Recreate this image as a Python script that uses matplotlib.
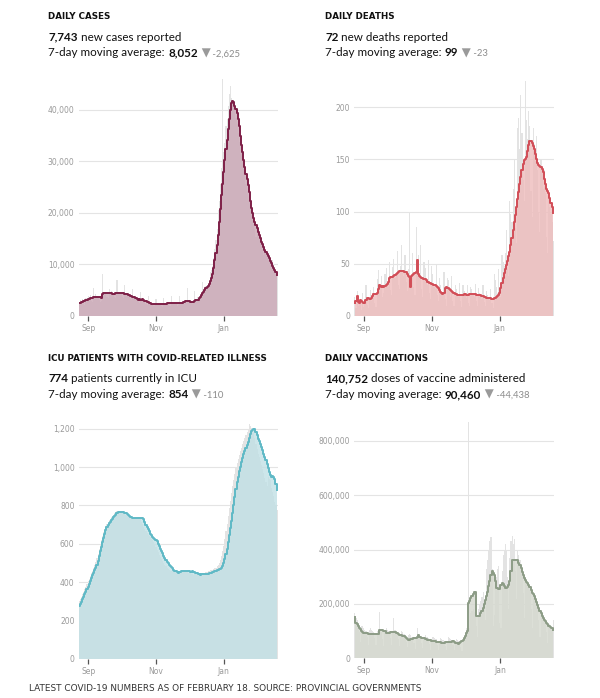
import matplotlib
matplotlib.use("Agg")
import matplotlib.pyplot as plt
import matplotlib.dates as mdates
from matplotlib.ticker import FuncFormatter
import pandas as pd

# days shown: Aug 24 2021 .. Feb 18 2022
dates = pd.date_range("2021-08-24", "2022-02-18", freq="D")

# ---- daily cases ----
cases_daily = [
    2600, 3100, 2900, 3300, 2400, 2200, 3500,
    3400, 3900, 3600, 4100, 2900, 2700, 5400,
    3800, 4200, 3900, 3600, 3100, 2800, 3000,
    8100, 4600, 4300, 4700, 3600, 3400, 5200,
    4300, 4800, 4500, 4400, 3700, 3500, 7000,
    4600, 4500, 4700, 4300, 3700, 3500, 6000,
    4200, 4300, 4100, 3800, 3300, 3100, 5200,
    3600, 3700, 3400, 3200, 2800, 2600, 4600,
    3100, 3200, 2900, 2800, 2400, 2200, 3900,
    2500, 2600, 2400, 2300, 2000, 1900, 3300,
    2300, 2400, 2200, 2100, 1900, 1800, 3400,
    2400, 2600, 2500, 2300, 2000, 1900, 3800,
    2500, 2600, 2400, 2300, 2000, 2100, 3900,
    2600, 2800, 2700, 2500, 2300, 2600, 5400,
    2900, 3000, 2800, 2600, 2400, 2800, 4800,
    3300, 3600, 3500, 3800, 3900, 4400, 6600,
    5200, 5600, 5900, 6100, 5400, 6400, 8600,
    8900, 9800, 11200, 13100, 14800, 16900, 20500,
    22400, 25600, 28700, 46000, 31900, 33500, 36800,
    38200, 40700, 43100, 44700, 42300, 41800, 40500,
    39800, 38400, 37200, 35600, 33800, 31500, 32400,
    30100, 28600, 27400, 25700, 24300, 22600, 23800,
    21200, 19800, 18700, 17900, 16800, 15400, 17600,
    16100, 15300, 14600, 13900, 12800, 11900, 13600,
    12600, 11800, 11200, 10600, 9900, 9200, 10800,
    9400, 8700, 8100, 7743,
]
cases_avg = [
    2450, 2550, 2650, 2750, 2850, 2950, 3050, 3150, 3250, 3350,
    3450, 3500, 3550, 3600, 3650, 3700, 3750, 3750, 3700, 3650,
    3400, 4350, 4400, 4450, 4500, 4500, 4450, 4400, 4400, 4380,
    4350, 4350, 4360, 4370, 4380, 4400, 4400, 4400, 4400, 4400,
    4380, 4350, 4300, 4200, 4100, 4000, 3900, 3800, 3750, 3700,
    3600, 3450, 3300, 3150, 3350, 3200, 3100, 3250, 3100, 2950,
    2850, 2750, 2650, 2550, 2450, 2400, 2350, 2330, 2320, 2300,
    2280, 2270, 2260, 2250, 2260, 2270, 2300, 2350, 2420, 2450,
    2460, 2470, 2470, 2460, 2450, 2450, 2440, 2450, 2460, 2470,
    2480, 2500, 2550, 2600, 2700, 2800, 2900, 2950, 2980, 2900,
    2750, 2650, 2700, 2800, 2950, 3100, 3050, 3200, 3400, 3700,
    4050, 4400, 4750, 5100, 5350, 5600, 5900, 6300, 6700, 7300,
    8200, 9300, 10800, 12300, 13800, 15800, 18200, 20800, 23400, 25700,
    27900, 30200, 32500, 34200, 36300, 38300, 40000, 41300, 41700, 41600,
    40800, 40200, 39500, 38200, 36800, 35000, 33200, 31800, 30200, 28900,
    27600, 26600, 25400, 24000, 22400, 20900, 19900, 19000, 18300, 17600,
    17000, 16400, 15800, 15100, 14400, 13900, 13400, 12900, 12500, 12100,
    11700, 11200, 10700, 10200, 9800, 9400, 9000, 8600, 8052,
]

# ---- daily deaths ----
deaths_daily = [
    18, 8, 24, 10, 12, 16, 6,
    22, 9, 14, 30, 11, 8, 17,
    25, 14, 20, 28, 12, 9, 35,
    44, 26, 31, 38, 18, 22, 40,
    46, 30, 28, 52, 25, 20, 47,
    55, 36, 40, 62, 30, 26, 48,
    68, 42, 38, 58, 33, 24, 45,
    99, 30, 36, 60, 28, 20, 85,
    48, 58, 40, 68, 26, 18, 52,
    46, 34, 30, 54, 22, 16, 48,
    40, 28, 26, 50, 20, 14, 36,
    30, 22, 20, 42, 16, 10, 36,
    34, 24, 18, 38, 14, 10, 30,
    26, 20, 18, 32, 14, 9, 30,
    24, 22, 17, 30, 12, 10, 28,
    26, 20, 18, 31, 14, 10, 27,
    22, 19, 16, 30, 13, 10, 24,
    20, 16, 15, 26, 12, 8, 40,
    34, 28, 22, 45, 24, 18, 58,
    52, 48, 60, 82, 45, 38, 110,
    98, 90, 122, 150, 84, 70, 180,
    190, 160, 212, 175, 130, 110, 225,
    188, 170, 196, 182, 120, 95, 180,
    165, 148, 172, 140, 100, 80, 150,
    138, 122, 140, 118, 76, 60, 115,
    104, 98, 90, 72,
]
deaths_avg = [
    12, 14, 19, 13, 12, 15, 14, 13, 12, 12,
    15, 17, 17, 16, 16, 17, 19, 21, 21, 21,
    22, 26, 30, 29, 28, 29, 28, 29, 30, 31,
    33, 36, 37, 37, 37, 38, 39, 40, 41, 42,
    43, 43, 43, 43, 43, 42, 42, 40, 38, 37,
    28, 38, 39, 40, 41, 42, 54, 40, 38, 37,
    36, 36, 35, 35, 34, 33, 33, 32, 32, 31,
    31, 30, 30, 29, 28, 27, 25, 23, 22, 21,
    22, 27, 28, 27, 27, 26, 25, 24, 23, 22,
    21, 21, 20, 20, 20, 20, 20, 20, 21, 21,
    20, 20, 20, 21, 21, 21, 21, 21, 21, 20,
    20, 20, 20, 20, 19, 19, 18, 18, 17, 17,
    17, 17, 17, 16, 16,
    17, 17, 18, 19, 20, 22, 27, 32, 36, 41,
    45, 49, 53, 57, 61, 68, 75, 82, 90, 97,
    104, 112, 119, 126, 133,
    140, 146, 149, 150, 152, 158, 164, 168, 168, 166,
    163, 160, 155, 150, 147, 145, 144, 143, 141, 138,
    131, 126, 122, 120, 118, 113, 108, 104, 99,
]

# ---- ICU patients ----
icu_daily = [
    300, 312, 325, 337, 350, 362, 375, 390, 404, 418,
    432, 446, 460, 474, 490, 505, 525, 548, 572, 595,
    618, 640, 660, 678, 693, 705, 714, 723, 731, 740,
    746, 752, 758, 764, 769, 771, 770, 768, 766, 764,
    760, 756, 752, 748, 745, 742, 740, 737, 735, 734,
    734, 735, 737, 740, 738, 730, 716, 703, 690, 678,
    666, 657, 648, 640, 633, 626, 618, 607, 595, 582,
    570, 556, 544, 532, 520, 510, 500, 491, 482, 474,
    468, 463, 459, 456, 456, 458, 459, 460, 459, 458,
    457, 458, 459, 460, 458, 456, 454, 452, 450, 448,
    446, 444, 442, 440, 441, 442, 443, 444, 445, 444,
    443, 446, 448, 450, 452, 454, 456, 458, 461, 464,
    466, 469, 472, 476, 482, 490, 500, 515, 535, 560,
    590, 625, 665, 705, 745, 785, 825, 865, 900, 935,
    965, 995, 1020, 1042, 1062, 1082, 1100, 1118, 1136, 1152,
    1168, 1182, 1195, 1225, 1215, 1205, 1190, 1175, 1150, 1120,
    1095, 1070, 1050, 1030, 1010, 990, 970, 945, 920, 900,
    950, 940, 930, 890, 870, 850, 820, 800, 774,
]
icu_avg = [
    274, 286, 299, 311, 324, 336, 349, 363, 377, 391,
    406, 421, 436, 449, 462, 475, 488, 510, 535, 560,
    585, 609, 630, 650, 670, 687, 697, 707, 716, 724,
    731, 738, 745, 752, 759, 766, 768, 768, 767, 766,
    765, 762, 758, 753, 749, 745, 742, 739, 736, 734,
    733, 733, 734, 733, 732, 732, 735, 737, 728, 712,
    700, 690, 676, 665, 653, 645, 638, 632, 626, 620,
    613, 600, 587, 575, 565, 551, 537, 524, 514, 506,
    498, 492, 485, 478, 472, 466, 460, 456, 452, 450,
    452, 455, 457, 458, 459, 460, 459, 458, 458, 457,
    452, 455, 458, 455, 452, 448, 446, 443, 441, 440,
    442, 444, 445, 445, 444, 443, 444, 446, 448, 450,
    452, 454, 456, 458, 461, 464, 467, 470, 475, 485,
    500, 520, 545, 575, 608, 644, 680, 720, 760, 800,
    843, 885, 922, 950, 977, 1000, 1026, 1046, 1066, 1085,
    1100, 1113, 1130, 1150, 1170, 1186, 1195, 1198, 1196, 1185,
    1165, 1148, 1135, 1120, 1105, 1087, 1070, 1052, 1035, 1015,
    995, 975, 957, 950, 953, 950, 940, 910, 878,
]

# ---- vaccinations (thousands of doses) ----
vacc_daily_k = [
    165, 150, 140, 130, 95, 60, 120,
    120, 110, 105, 100, 80, 50, 105,
    110, 105, 100, 98, 75, 48, 100,
    105, 170, 100, 95, 72, 45, 95,
    110, 105, 100, 98, 75, 50, 100,
    150, 105, 100, 95, 70, 45, 90,
    100, 95, 90, 85, 60, 40, 85,
    90, 85, 80, 78, 55, 35, 75,
    110, 88, 82, 80, 58, 38, 72,
    85, 80, 78, 75, 52, 32, 70,
    80, 75, 72, 70, 48, 30, 65,
    75, 70, 68, 65, 45, 30, 60,
    78, 75, 70, 68, 48, 32, 62,
    72, 68, 65, 62, 42, 28, 60,
    80, 95, 110, 120, 870, 110, 165,
    175, 180, 170, 160, 120, 80, 180,
    200, 210, 225, 245, 200, 140, 330,
    360, 400, 430, 445, 330, 120, 160,
    260, 300, 330, 340, 130, 110, 320,
    380, 400, 420, 395, 300, 180, 370,
    430, 450, 420, 440, 320, 220, 400,
    380, 360, 330, 320, 240, 150, 300,
    290, 280, 270, 250, 180, 110, 240,
    230, 210, 200, 185, 140, 80, 175,
    165, 150, 140, 130, 95, 55, 125,
    120, 110, 105, 140.752,
]
vacc_avg_k = [
    151, 130, 125, 118, 111, 106, 100, 96, 93, 93,
    92, 92, 91, 91, 91, 90, 90, 89, 89, 89,
    89, 89, 105, 104, 103, 103, 102, 102, 92, 92,
    93, 94, 95, 96, 97, 97, 96, 94, 92, 88,
    87, 86, 84, 82, 81, 78, 75, 72, 69, 69,
    70, 71, 72, 73, 74, 75, 77, 84, 80, 77,
    75, 74, 73, 71, 70, 69, 68, 67, 66, 65,
    64, 63, 62, 61, 61, 60, 59, 59, 58, 58,
    58, 59, 59, 60, 60, 60, 61, 61, 62, 60,
    58, 56, 55, 54, 56, 60, 62, 68, 75, 81,
    93, 100, 203, 212, 222, 230, 238, 244, 244, 154,
    154, 154, 154, 165, 175, 185, 200, 215, 228, 245,
    265, 283, 305, 323, 315, 307, 285, 258, 258, 256,
    256, 268, 277, 275, 265, 258, 258, 262, 270, 283,
    320, 360, 360, 360, 360, 360, 360, 352, 342, 332,
    318, 305, 295, 288, 282, 276, 271, 262, 252, 242,
    235, 228, 218, 208, 198, 185, 175, 165, 157, 148,
    142, 136, 130, 125, 120, 116, 113, 110, 105,
]
vacc_daily = [v * 1000 for v in vacc_daily_k]
vacc_avg = [v * 1000 for v in vacc_avg_k]

BODY = ["Lato", "DejaVu Sans"]
W, H = 600, 698

fig = plt.figure(figsize=(6, 6.98), dpi=100)
fig.patch.set_facecolor("white")


def px(x, y):
    # pixel coords (top-left origin) -> figure fraction
    return x / W, 1 - y / H


def draw_panel(rect, daily, avg, ymax, yticks, fill, line):
    ax = fig.add_axes(rect)
    ax.bar(dates, daily, width=1.0, color="#e3e3e3", linewidth=0, zorder=1)
    ax.fill_between(dates, avg, step="mid", color=fill, alpha=0.8,
                    linewidth=0, zorder=2)
    ax.step(dates, avg, where="mid", color=line, linewidth=1.4, zorder=3)
    ax.set_xlim(dates[0] - pd.Timedelta(hours=12), dates[-1] + pd.Timedelta(hours=12))
    ax.set_ylim(0, ymax)
    ax.set_yticks(yticks)
    ax.yaxis.set_major_formatter(FuncFormatter(lambda v, p: f"{v:,.0f}"))
    ax.grid(axis="y", color="#e4e4e4", linewidth=0.8, zorder=0)
    ax.set_axisbelow(True)
    for s in ax.spines.values():
        s.set_visible(False)
    ax.xaxis.set_major_locator(mdates.MonthLocator(bymonth=[9, 11, 1]))
    ax.xaxis.set_major_formatter(mdates.DateFormatter("%b"))
    ax.tick_params(axis="y", length=0, pad=3, labelsize=5.5, labelcolor="#9a9a9a")
    ax.tick_params(axis="x", length=3.5, width=0.9, color="#555555", pad=2,
                   labelsize=5.5, labelcolor="#9a9a9a")
    return ax


def text_run(x, y, parts):
    # write pieces of text one after another on one baseline
    renderer = fig.canvas.get_renderer()
    fx, fy = px(x, y)
    for s, kw in parts:
        t = fig.text(fx, fy, s, va="baseline", ha="left", **kw)
        bb = t.get_window_extent(renderer)
        fx = bb.x1 / W


def header(x, title, count, rest, avg_txt, change, y0):
    fig.text(*px(x, y0), title, fontsize=6.3, fontweight="bold",
             color="#111111", va="baseline", family="DejaVu Sans")
    big = dict(fontsize=8.4, family=BODY, color="#111111")
    text_run(x, y0 + 21.5, [(count, dict(big, fontweight="bold")), (rest, big)])
    text_run(x, y0 + 37, [
        ("7-day moving average: ", big),
        (avg_txt, dict(big, fontweight="bold")),
        (" ▼", dict(fontsize=8.5, family="DejaVu Sans", color="#9a9a9a")),
        (" " + change, dict(fontsize=6.8, family=BODY, color="#8c8c8c")),
    ])


draw_panel([78.7 / W, 0.5473, 199 / W, 0.3431], cases_daily, cases_avg,
           46500, [0, 10000, 20000, 30000, 40000], "#caa6b5", "#7e1f47")
draw_panel([354.3 / W, 0.5473, 199.5 / W, 0.341], deaths_daily, deaths_avg,
           228, [0, 50, 100, 150, 200], "#eebcbc", "#d24d57")
draw_panel([78.7 / W, 0.0559, 199 / W, 0.341], icu_daily, icu_avg,
           1240, [0, 200, 400, 600, 800, 1000, 1200], "#c1e0e5", "#5fb9c6")
draw_panel([354.3 / W, 0.0569, 199.7 / W, 0.3405], vacc_daily, vacc_avg,
           875000, [0, 200000, 400000, 600000, 800000], "#d4d8ce", "#8c9c86")

header(48.5, "DAILY CASES", "7,743", " new cases reported", "8,052", "-2,625", 19.3)
header(325, "DAILY DEATHS", "72", " new deaths reported", "99", "-23", 19.3)
header(48.5, "ICU PATIENTS WITH COVID-RELATED ILLNESS", "774",
       " patients currently in ICU", "854", "-110", 361)
header(325, "DAILY VACCINATIONS", "140,752", " doses of vaccine administered",
       "90,460", "-44,438", 361)

fig.text(*px(29, 691), "LATEST COVID-19 NUMBERS AS OF FEBRUARY 18. SOURCE: PROVINCIAL GOVERNMENTS",
         fontsize=6.4, color="#333333", va="baseline", family="DejaVu Sans")

fig.savefig("out.png", dpi=100)
